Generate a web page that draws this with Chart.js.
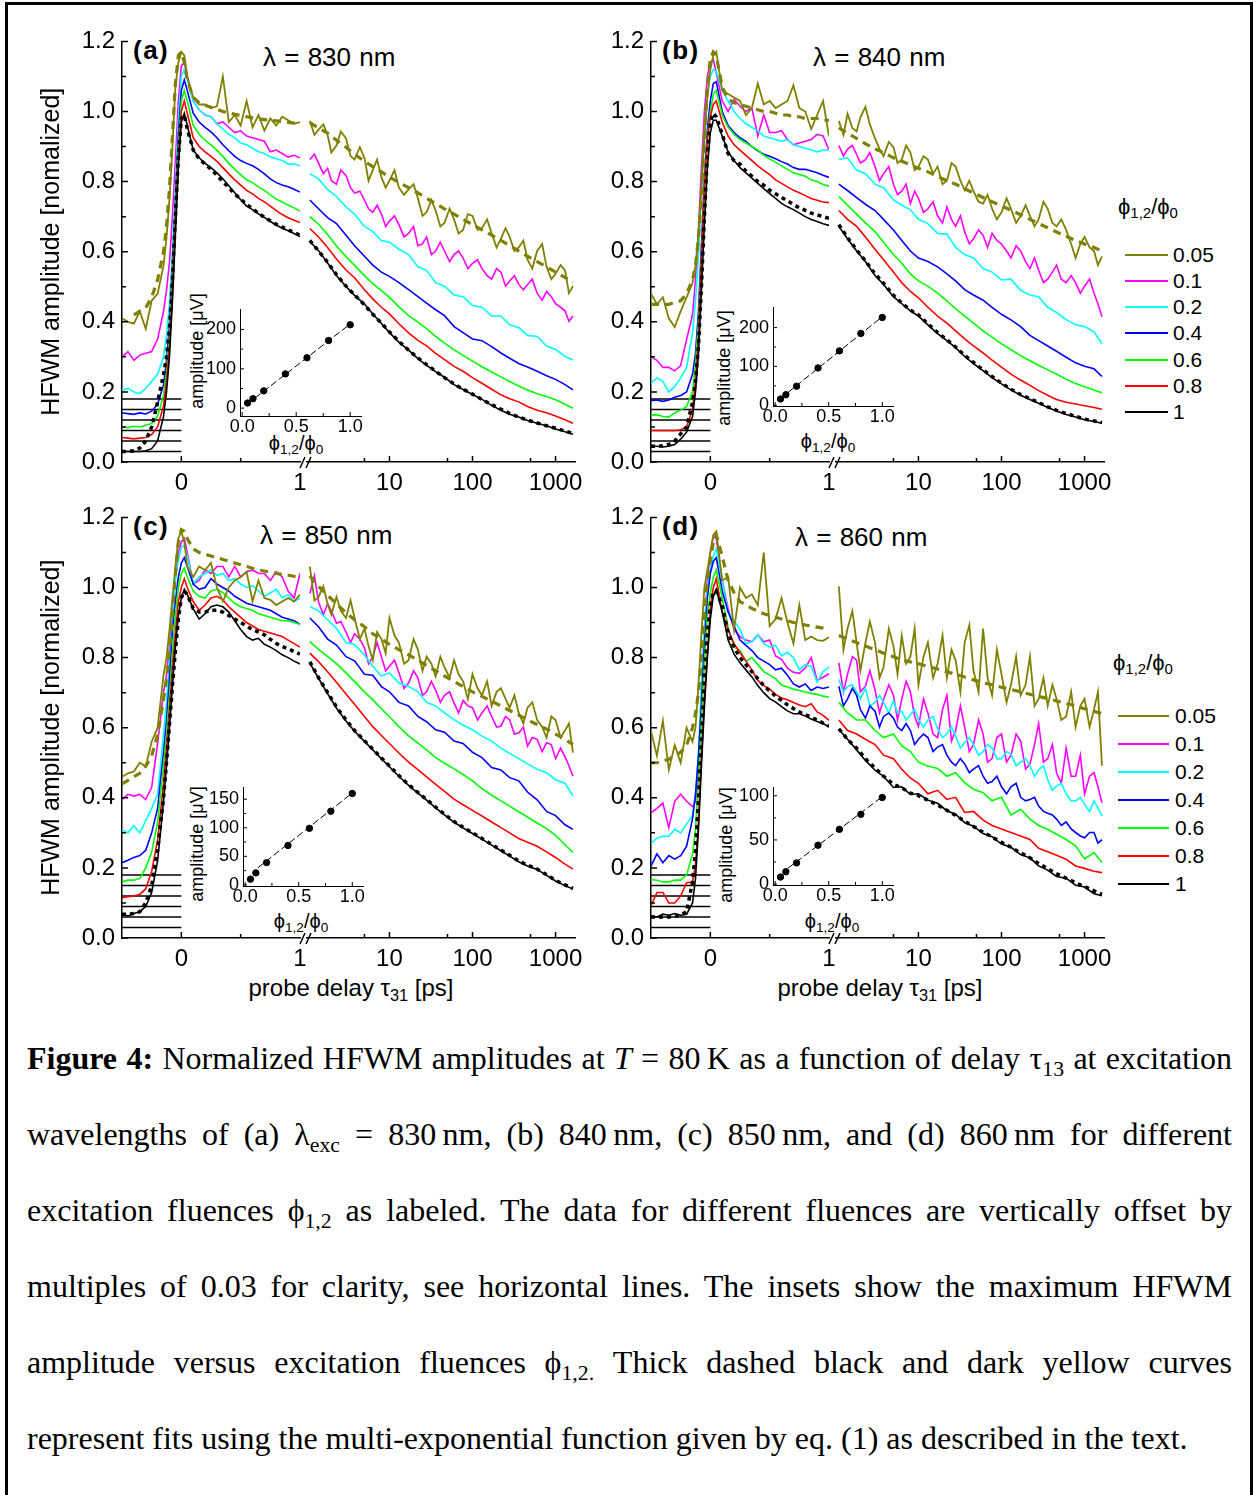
<!DOCTYPE html>
<html>
<head>
<meta charset="utf-8">
<script src="https://cdn.jsdelivr.net/npm/chart.js@4.4.1/dist/chart.umd.min.js"></script>
<style>
  body { margin: 0; width: 1253px; height: 1495px; position: relative; overflow: hidden; background: #fff;
         font-family: "Liberation Sans", Arial, sans-serif; color: #000; }
  #frame { position: absolute; left: 5px; top: 2px; width: 1242px; height: 1500px; border: 3px solid #000; border-bottom: none; }
  canvas { position: absolute; }
  .txt { position: absolute; white-space: nowrap; line-height: 1; }
  .mid { transform: translate(-50%, -50%); }
  .rot { transform: translate(-50%, -50%) rotate(-90deg); }
  sub { font-size: 0.68em; vertical-align: -0.3em; line-height: 0; }
  .sw { position: absolute; height: 0; border-top: 2px solid #000; }
  .lam { position: absolute; white-space: nowrap; line-height: 1; font-size: 26px; word-spacing: 1px; }
  .cap { position: absolute; left: 27px; width: 1205px; height: 40px; line-height: 40px;
         font-family: "Liberation Serif", "Times New Roman", serif; font-size: 32px;
         text-align: justify; text-align-last: justify; }
</style>
</head>
<body>
<div id="frame"></div>

<!-- panel labels -->
<div class="txt" style="left:133px;top:37px;font-size:26px;font-weight:bold;letter-spacing:1.5px">(a)</div>
<div class="txt" style="left:662px;top:37px;font-size:26px;font-weight:bold;letter-spacing:1.5px">(b)</div>
<div class="txt" style="left:133px;top:513px;font-size:26px;font-weight:bold;letter-spacing:1.5px">(c)</div>
<div class="txt" style="left:662px;top:513px;font-size:26px;font-weight:bold;letter-spacing:1.5px">(d)</div>

<div class="lam" style="left:263px;top:44px">λ = 830 nm</div>
<div class="lam" style="left:813px;top:44px">λ = 840 nm</div>
<div class="lam" style="left:260px;top:522px">λ = 850 nm</div>
<div class="lam" style="left:795px;top:524px">λ = 860 nm</div>

<!-- x axis titles -->
<div class="txt mid" style="left:351px;top:988px;font-size:24px">probe delay τ<sub>31</sub> [ps]</div>
<div class="txt mid" style="left:880px;top:988px;font-size:24px">probe delay τ<sub>31</sub> [ps]</div>

<!-- inset titles -->
<div class="txt mid" style="left:296px;top:443px;font-size:20px">ϕ<sub>1,2</sub>/ϕ<sub>0</sub></div>
<div class="txt mid" style="left:828px;top:441px;font-size:20px">ϕ<sub>1,2</sub>/ϕ<sub>0</sub></div>
<div class="txt mid" style="left:301px;top:921px;font-size:20px">ϕ<sub>1,2</sub>/ϕ<sub>0</sub></div>
<div class="txt mid" style="left:832px;top:921px;font-size:20px">ϕ<sub>1,2</sub>/ϕ<sub>0</sub></div>
<div class="txt rot" style="left:197px;top:351px;font-size:18px">amplitude [μV]</div>
<div class="txt rot" style="left:724px;top:368px;font-size:18px">amplitude [μV]</div>
<div class="txt rot" style="left:197px;top:844px;font-size:18px">amplitude [μV]</div>
<div class="txt rot" style="left:726px;top:845px;font-size:18px">amplitude [μV]</div>

<!-- legends -->
<div class="txt" style="left:1118px;top:196px;font-size:22px">ϕ<sub>1,2</sub>/ϕ<sub>0</sub></div>
<div class="txt" style="left:1113px;top:652px;font-size:22px">ϕ<sub>1,2</sub>/ϕ<sub>0</sub></div>
<div id="legends"></div>

<!-- caption -->
<div class="cap" style="top:1038px"><b>Figure 4:</b> Normalized HFWM amplitudes at <i>T</i> = 80&thinsp;K as a function of delay τ<sub>13</sub> at excitation</div>
<div class="cap" style="top:1114px">wavelengths of (a) λ<sub>exc</sub> = 830&thinsp;nm, (b) 840&thinsp;nm, (c) 850&thinsp;nm, and (d) 860&thinsp;nm for different</div>
<div class="cap" style="top:1190px">excitation fluences ϕ<sub>1,2</sub> as labeled. The data for different fluences are vertically offset by</div>
<div class="cap" style="top:1266px">multiples of 0.03 for clarity, see horizontal lines. The insets show the maximum HFWM</div>
<div class="cap" style="top:1342px">amplitude versus excitation fluences ϕ<sub>1,2.</sub> Thick dashed black and dark yellow curves</div>
<div class="cap" style="top:1418px;text-align-last:left">represent fits using the multi-exponential function given by eq. (1) as described in the text.</div>

<script>
// delay grids (ps): linear part, log part, and a finer log grid for the noisier traces
const xLin = [-0.5,-0.45,-0.4,-0.35,-0.3,-0.25,-0.2,-0.15,-0.125,-0.1,-0.075,-0.05,-0.025,0,0.025,0.05,0.1,0.15,0.2,0.25,0.3,0.35,0.4,0.45,0.5,0.55,0.6,0.65,0.7,0.75,0.8,0.85,0.9,0.95,1.0];
const xLog = [1.1,1.4,1.8,2.3,3,3.8,5,6.3,8,10,13,17,22,28,36,46,60,77,100,130,170,220,280,360,460,600,780,1000,1300,1620];
const xLogFine = [1.1,1.25,1.4,1.6,1.8,2.0,2.3,2.6,3,3.4,3.8,4.4,5,5.6,6.3,7.1,8,9,10,11.5,13,15,17,19.5,22,25,28,32,36,41,46,53,60,68,77,88,100,115,130,150,170,195,220,250,280,320,360,410,460,525,600,690,780,890,1000,1150,1300,1450,1620];

const linTicks = [0, 1];
const linMinor = [0.5];
const logTicks = [10, 100, 1000];
const logMinor = [5, 50, 500];
const yTicks = [0, 0.2, 0.4, 0.6, 0.8, 1.0, 1.2];
const yMinor = [0.1, 0.3, 0.5, 0.7, 0.9, 1.1];
const offsets = [0.03, 0.06, 0.09, 0.12, 0.15, 0.18];
const baseX = [-0.5, 0];

const fluences = ['0.05', '0.1', '0.2', '0.4', '0.6', '0.8', '1'];
const colors = ['#808000', '#ff00ff', '#00ffff', '#0000ff', '#00ff00', '#ff0000', '#000000'];

// (a) 830 nm
const aLin005 = [.41,.40,.395,.43,.38,.46,.48,.56,.64,.75,.9,1.07,1.14,1.17,1.16,1.1,1.04,1.02,1.02,1.01,1.015,1.1,.97,.99,.96,1.03,.955,.99,.945,.98,.96,.985,.975,.965,.97];
const aLin01 = [.3,.315,.29,.305,.31,.315,.35,.43,.49,.57,.7,.86,1.03,1.13,1.14,1.1,1.03,1.005,.99,.985,.965,.97,.955,.94,.945,.93,.925,.92,.915,.885,.89,.88,.87,.875,.868];
const aLin02 = [.205,.21,.2,.195,.21,.23,.25,.3,.36,.45,.6,.78,.97,1.1,1.12,1.09,1.03,1.005,.99,.985,.965,.95,.935,.925,.91,.905,.895,.885,.88,.87,.865,.86,.85,.85,.845];
const aLin04 = [.14,.138,.136,.14,.137,.145,.165,.22,.29,.39,.55,.74,.93,1.06,1.09,1.06,.995,.97,.955,.942,.925,.905,.888,.872,.86,.852,.845,.835,.822,.808,.797,.79,.785,.778,.77];
const aLin06 = [.1,.098,.102,.1,.105,.11,.13,.19,.26,.36,.52,.71,.9,1.03,1.06,1.03,.96,.935,.918,.905,.89,.872,.852,.835,.82,.805,.797,.785,.775,.762,.75,.742,.733,.725,.716];
const aLin08 = [.07,.068,.066,.068,.07,.078,.1,.16,.23,.33,.49,.68,.87,1.0,1.03,.995,.925,.9,.885,.872,.858,.84,.822,.805,.79,.775,.765,.752,.742,.73,.717,.706,.697,.69,.683];
const aLin1 = [.03,.03,.03,.03,.032,.038,.06,.13,.2,.3,.46,.65,.84,.97,.995,.96,.89,.868,.852,.84,.825,.808,.788,.768,.748,.73,.72,.708,.698,.686,.676,.667,.66,.652,.643];
const aFit1Lin = [.03,.03,.032,.04,.06,.1,.17,.25,.3,.38,.52,.7,.87,.98,.99,.95,.89,.865,.85,.835,.818,.8,.783,.765,.75,.735,.722,.71,.698,.688,.678,.67,.662,.655,.647];
const aFit005Lin = [null,null,.42,.43,.44,.47,.52,.6,.67,.78,.93,1.08,1.16,1.17,1.14,1.09,1.04,1.025,1.018,1.012,1.006,1.0,.996,.992,.988,.985,.982,.979,.977,.975,.973,.971,.969,.967,.965];
const aLog005 = [.97,.93,.945,.96,.93,.88,.90,.94,.92,.87,.86,.895,.865,.80,.83,.86,.81,.78,.80,.83,.78,.76,.775,.79,.75,.70,.71,.745,.715,.67,.68,.72,.69,.65,.66,.705,.70,.66,.665,.69,.65,.61,.635,.665,.64,.6,.61,.63,.575,.55,.6,.62,.555,.52,.535,.56,.545,.48,.5];
const aLog01 = [.86,.875,.85,.82,.835,.80,.79,.83,.815,.78,.765,.77,.745,.72,.71,.73,.705,.67,.685,.70,.675,.64,.65,.67,.615,.62,.64,.59,.6,.625,.6,.57,.59,.60,.58,.55,.565,.575,.55,.53,.52,.55,.54,.50,.515,.53,.505,.49,.505,.52,.48,.46,.485,.47,.45,.44,.43,.40,.415];
const aLog02 = [.82,.805,.775,.755,.725,.705,.67,.655,.63,.625,.605,.59,.555,.545,.51,.5,.475,.47,.445,.44,.415,.415,.39,.382,.36,.357,.33,.32,.3,.29];
const aLog04 = [.745,.72,.695,.678,.645,.615,.585,.56,.54,.528,.51,.49,.47,.452,.433,.416,.385,.368,.35,.345,.328,.31,.295,.28,.27,.258,.245,.235,.22,.205];
const aLog06 = [.698,.676,.647,.614,.584,.559,.530,.507,.487,.468,.441,.416,.398,.379,.357,.338,.319,.303,.287,.271,.256,.242,.229,.216,.205,.194,.186,.177,.164,.153];
const aLog08 = [.664,.640,.610,.577,.546,.524,.490,.464,.440,.421,.393,.367,.346,.330,.309,.291,.272,.258,.240,.224,.207,.191,.180,.171,.158,.147,.140,.131,.120,.11];
const aLog1 = [.627,.601,.566,.530,.499,.474,.449,.421,.394,.368,.341,.318,.294,.275,.257,.241,.220,.206,.192,.178,.161,.147,.136,.128,.118,.110,.103,.094,.086,.079];
const aFit1Log = [.63,.6,.568,.533,.5,.475,.447,.42,.395,.37,.343,.318,.296,.277,.258,.24,.222,.207,.193,.178,.163,.15,.138,.128,.119,.111,.103,.096,.088,.081];
const aFit005Log = [.965,.95,.935,.915,.895,.875,.855,.84,.825,.81,.795,.78,.765,.75,.735,.72,.705,.69,.675,.66,.645,.63,.615,.60,.585,.57,.555,.54,.525,.51];

// (b) 840 nm
const bLin005 = [.48,.45,.47,.41,.385,.43,.47,.51,.56,.65,.78,.93,1.04,1.12,1.16,1.17,1.06,1.05,1.04,1.03,.99,1.01,1.08,1.02,1.03,1.01,1.02,1.03,1.075,1.01,1.0,.95,.99,1.03,.93];
const bLin01 = [.3,.29,.27,.27,.26,.275,.35,.42,.52,.66,.84,1.0,1.1,1.14,1.148,1.11,1.03,1.0,1.035,1.015,1.0,1.01,.93,.99,.94,.94,.945,.92,.905,.91,.915,.92,.935,.93,.89];
const bLin02 = [.225,.24,.23,.2,.215,.24,.27,.37,.46,.59,.77,.94,1.05,1.1,1.12,1.115,1.06,1.03,1.0,.98,.965,.955,.945,.93,.925,.92,.915,.92,.905,.9,.895,.89,.885,.89,.89];
const bLin04 = [.175,.177,.173,.177,.185,.19,.2,.25,.31,.43,.62,.81,.95,1.03,1.08,1.085,1.0,.96,.94,.925,.915,.9,.888,.878,.872,.865,.857,.85,.84,.835,.835,.83,.825,.818,.812];
const bLin06 = [.133,.135,.13,.128,.14,.148,.158,.2,.28,.4,.58,.79,.93,1.0,1.05,1.06,.99,.955,.935,.92,.91,.9,.89,.875,.865,.855,.845,.835,.825,.82,.815,.805,.8,.792,.787];
const bLin08 = [.09,.09,.09,.09,.09,.092,.1,.15,.23,.36,.57,.78,.92,.985,1.02,1.03,.97,.93,.905,.89,.875,.86,.845,.832,.82,.805,.795,.785,.775,.768,.76,.752,.747,.742,.74];
const bLin1 = [.045,.045,.043,.045,.05,.065,.085,.13,.2,.31,.49,.68,.84,.94,.975,.975,.93,.885,.86,.84,.825,.81,.795,.78,.766,.752,.738,.728,.72,.71,.7,.692,.686,.68,.675];
const bFit1Lin = [.045,.045,.046,.05,.06,.08,.1,.17,.23,.33,.5,.7,.88,.97,.995,.985,.935,.88,.86,.85,.83,.815,.8,.79,.775,.765,.755,.745,.735,.725,.718,.71,.705,.7,.695];
const bFit005Lin = [.45,.45,.45,.45,.455,.46,.48,.52,.56,.64,.77,.93,1.07,1.15,1.17,1.16,1.07,1.035,1.025,1.02,1.015,1.01,1.005,1.0,1.0,.995,.99,.99,.985,.985,.98,.98,.98,.975,.975];
const bLog005 = [.97,.93,.99,.95,.94,.98,1.01,.96,.92,.89,.87,.91,.895,.85,.86,.90,.88,.83,.84,.87,.86,.82,.84,.79,.80,.85,.84,.80,.773,.80,.77,.74,.735,.76,.72,.69,.71,.75,.72,.68,.70,.73,.70,.67,.69,.74,.72,.68,.67,.69,.66,.62,.58,.62,.64,.61,.6,.56,.585];
const bLog01 = [.9,.87,.89,.9,.875,.85,.86,.88,.84,.80,.82,.84,.79,.76,.77,.79,.735,.77,.75,.71,.72,.74,.70,.68,.725,.69,.67,.70,.655,.62,.635,.66,.645,.61,.65,.63,.62,.60,.58,.615,.60,.57,.55,.58,.545,.51,.52,.54,.56,.52,.51,.53,.51,.48,.50,.52,.48,.45,.413];
const bLog02 = [.86,.865,.83,.82,.79,.78,.745,.73,.717,.69,.678,.65,.648,.61,.59,.58,.55,.54,.518,.52,.488,.475,.47,.44,.425,.405,.39,.385,.37,.337];
const bLog04 = [.79,.772,.752,.733,.715,.69,.66,.63,.6,.58,.57,.555,.535,.515,.49,.475,.46,.44,.42,.404,.385,.36,.345,.33,.315,.298,.282,.272,.265,.243];
const bLog06 = [.755,.73,.705,.68,.655,.625,.59,.565,.535,.515,.5,.48,.458,.436,.415,.395,.373,.355,.336,.32,.302,.288,.275,.262,.25,.235,.223,.214,.205,.197];
const bLog08 = [.715,.69,.67,.64,.605,.575,.54,.51,.485,.467,.44,.415,.395,.373,.35,.33,.31,.29,.27,.25,.233,.218,.203,.19,.178,.17,.165,.16,.155,.15];
const bLog1 = [.67,.635,.60,.57,.53,.505,.47,.45,.43,.415,.39,.365,.345,.325,.30,.28,.26,.24,.222,.205,.19,.178,.167,.155,.145,.135,.128,.12,.115,.11];
const bFit1Log = [.675,.638,.603,.572,.535,.508,.474,.452,.432,.418,.393,.368,.347,.327,.303,.283,.262,.243,.224,.207,.192,.18,.169,.157,.147,.138,.13,.122,.117,.112];
const bFit005Log = [.95,.935,.92,.905,.89,.88,.865,.855,.845,.835,.825,.812,.80,.79,.777,.765,.752,.74,.728,.716,.703,.69,.678,.666,.654,.642,.63,.62,.61,.6];

// (c) 850 nm
const cLin005 = [.46,.47,.475,.5,.49,.56,.6,.75,.8,.88,.97,1.06,1.14,1.16,1.13,1.06,1.03,1.06,1.05,1.07,1.0,.96,1.0,1.02,1.03,1.045,.96,1.02,.97,.965,.95,.96,.97,.96,.98];
const cLin01 = [.395,.41,.405,.41,.395,.43,.555,.7,.75,.83,.93,1.03,1.1,1.13,1.14,1.1,1.01,1.02,1.05,1.04,1.06,1.06,1.03,1.06,1.03,1.045,1.05,1.04,1.04,1.02,1.045,1.03,.99,.97,1.04];
const cLin02 = [.31,.30,.32,.3,.335,.37,.41,.58,.67,.79,.91,1.02,1.08,1.115,1.12,1.09,1.01,1.03,1.04,1.05,1.035,1.04,1.02,1.025,1.01,1.0,1.005,.99,.975,.985,.995,.97,.98,.96,.97];
const cLin04 = [.215,.222,.23,.235,.25,.3,.37,.53,.62,.74,.88,.96,1.03,1.07,1.085,1.06,1.01,.995,1.0,1.025,1.01,1.0,.99,.975,.965,.955,.95,.945,.94,.935,.925,.915,.91,.905,.895];
const cLin06 = [.16,.165,.165,.17,.2,.245,.33,.49,.58,.69,.81,.92,1.0,1.04,1.055,1.03,.99,.975,.97,.99,.995,.985,.97,.955,.945,.94,.935,.925,.92,.915,.91,.905,.905,.9,.895];
const cLin08 = [.115,.118,.12,.125,.14,.19,.28,.44,.54,.65,.77,.87,.96,1.0,1.025,1.0,.96,.935,.95,.97,.975,.965,.945,.93,.915,.9,.89,.88,.875,.87,.865,.86,.85,.84,.83];
const cLin1 = [.068,.063,.07,.075,.09,.13,.22,.39,.49,.6,.72,.83,.92,.97,.995,.98,.94,.91,.925,.945,.95,.945,.93,.905,.88,.86,.85,.855,.838,.83,.82,.808,.8,.79,.782];
const cFit1Lin = [.068,.068,.07,.075,.1,.15,.25,.4,.5,.61,.72,.82,.91,.97,.99,.98,.94,.93,.93,.935,.935,.93,.92,.91,.9,.89,.88,.873,.865,.852,.84,.832,.825,.817,.81];
const cFit005Lin = [.44,.45,.46,.47,.49,.52,.58,.68,.74,.82,.92,1.04,1.13,1.165,1.16,1.14,1.11,1.1,1.095,1.09,1.085,1.08,1.075,1.07,1.065,1.06,1.055,1.05,1.047,1.043,1.04,1.037,1.035,1.032,1.03];
const cLog005 = [1.056,.96,.97,1.0,.95,.92,.97,.93,.91,.96,.91,.85,.88,.83,.79,.87,.85,.81,.91,.86,.84,.78,.79,.85,.82,.76,.8,.78,.744,.80,.77,.74,.79,.75,.73,.68,.75,.71,.69,.73,.66,.70,.71,.68,.655,.69,.64,.61,.655,.67,.62,.60,.57,.63,.62,.57,.59,.61,.527];
const cLog01 = [.98,1.03,.955,.92,.95,.93,.895,.90,.87,.84,.865,.85,.825,.78,.80,.84,.80,.76,.773,.79,.754,.71,.725,.76,.74,.69,.70,.73,.705,.67,.69,.70,.668,.64,.675,.66,.655,.62,.64,.66,.63,.60,.603,.63,.62,.58,.583,.60,.546,.57,.565,.53,.555,.55,.51,.54,.515,.49,.46];
const cLog02 = [.943,.93,.905,.88,.84,.835,.805,.773,.745,.754,.725,.716,.70,.67,.66,.64,.621,.605,.592,.574,.56,.54,.525,.51,.495,.48,.47,.45,.44,.404];
const cLog04 = [.91,.885,.85,.833,.8,.788,.75,.747,.715,.7,.67,.66,.63,.615,.592,.585,.56,.553,.528,.513,.485,.478,.456,.447,.415,.393,.36,.348,.322,.309];
const cLog06 = [.843,.821,.8,.78,.754,.729,.7,.677,.652,.629,.601,.575,.554,.535,.513,.497,.481,.465,.447,.425,.406,.39,.375,.359,.344,.327,.311,.292,.265,.243];
const cLog08 = [.81,.786,.757,.727,.694,.665,.63,.601,.576,.553,.526,.5,.479,.458,.437,.417,.395,.379,.363,.347,.33,.314,.299,.283,.272,.261,.245,.229,.21,.196];
const cLog1 = [.782,.738,.695,.654,.617,.588,.559,.535,.51,.487,.46,.434,.412,.392,.37,.35,.329,.313,.297,.281,.264,.248,.233,.217,.205,.195,.178,.162,.149,.139];
const cFit1Log = [.785,.74,.698,.657,.62,.59,.561,.537,.512,.489,.462,.436,.414,.394,.372,.352,.331,.315,.299,.283,.266,.25,.235,.219,.207,.196,.18,.164,.151,.141];
const cFit005Log = [1.03,1.0,.975,.95,.925,.905,.885,.865,.85,.835,.82,.805,.79,.775,.76,.745,.73,.715,.70,.687,.673,.66,.647,.634,.62,.607,.594,.58,.565,.55];

// (d) 860 nm
const dLin005 = [.59,.52,.62,.48,.55,.5,.6,.56,.6,.72,.87,1.0,1.05,1.1,1.15,1.16,1.02,1.03,.88,1.0,.97,.98,.95,1.1,.89,.91,.97,.9,.84,.95,.85,.86,.85,.848,.858];
const dLin01 = [.357,.37,.385,.315,.39,.41,.39,.375,.39,.48,.68,.88,1.02,1.1,1.145,1.14,1.02,.94,.88,.86,.85,.845,.865,.845,.85,.805,.795,.77,.758,.755,.77,.8,.735,.744,.754];
const dLin02 = [.27,.285,.29,.29,.31,.3,.325,.35,.41,.527,.72,.89,1.0,1.056,1.09,1.11,1.02,.93,.905,.88,.84,.845,.865,.84,.83,.835,.805,.815,.8,.765,.78,.775,.73,.76,.773];
const dLin04 = [.205,.24,.215,.235,.225,.235,.262,.34,.41,.52,.67,.84,.97,1.04,1.075,1.085,.99,.93,.89,.85,.835,.82,.8,.79,.78,.765,.77,.75,.725,.716,.725,.706,.716,.712,.716];
const dLin06 = [.167,.165,.16,.16,.165,.165,.18,.24,.31,.45,.62,.79,.92,.985,1.03,1.05,.97,.886,.83,.82,.79,.8,.78,.76,.75,.74,.722,.716,.71,.706,.702,.698,.695,.69,.687];
const dLin08 = [.092,.13,.13,.1,.1,.12,.158,.16,.21,.33,.52,.68,.81,.94,1.0,1.025,.93,.88,.84,.815,.79,.765,.735,.72,.71,.695,.685,.68,.672,.665,.66,.668,.645,.635,.621];
const dLin1 = [.063,.06,.068,.065,.07,.065,.068,.1,.17,.31,.49,.66,.8,.91,.975,.995,.93,.85,.81,.785,.765,.745,.72,.7,.683,.673,.66,.648,.64,.64,.633,.625,.618,.612,.602];
const dFit1Lin = [.06,.06,.06,.06,.062,.065,.075,.16,.25,.4,.57,.74,.87,.95,.985,.99,.95,.87,.83,.8,.78,.76,.74,.72,.705,.69,.678,.665,.655,.645,.637,.63,.622,.613,.605];
const dFit005Lin = [.5,.5,.505,.51,.52,.53,.55,.6,.64,.7,.8,.92,1.02,1.08,1.13,1.15,1.09,1.02,.985,.96,.95,.94,.933,.925,.92,.915,.91,.905,.9,.897,.893,.89,.887,.884,.88];
const dLog005 = [1.0,.82,.88,.93,.84,.76,.84,.90,.84,.74,.77,.88,.83,.75,.86,.78,.8,.88,.72,.8,.84,.74,.78,.86,.74,.82,.79,.70,.84,.89,.76,.70,.88,.74,.69,.82,.75,.67,.72,.80,.69,.72,.80,.66,.68,.74,.66,.72,.68,.62,.63,.70,.60,.66,.68,.60,.65,.70,.49];
const dLog01 = [.782,.70,.75,.80,.79,.70,.716,.76,.706,.64,.678,.72,.69,.62,.68,.73,.7,.63,.602,.68,.64,.58,.57,.65,.69,.56,.59,.66,.6,.53,.55,.62,.58,.50,.51,.57,.58,.50,.52,.58,.56,.48,.495,.55,.61,.50,.51,.55,.47,.44,.54,.46,.46,.52,.41,.46,.47,.43,.385];
const dLog02 = [.735,.70,.715,.72,.70,.68,.71,.66,.67,.69,.67,.64,.675,.64,.645,.62,.635,.65,.621,.60,.62,.63,.595,.57,.58,.60,.575,.54,.555,.57,.55,.52,.53,.55,.54,.51,.51,.53,.522,.49,.50,.51,.49,.46,.478,.49,.45,.42,.432,.44,.41,.39,.39,.40,.38,.36,.39,.37,.347];
const dLog04 = [.716,.66,.68,.71,.69,.65,.625,.66,.645,.60,.63,.64,.625,.60,.59,.61,.59,.55,.565,.58,.57,.53,.543,.55,.52,.50,.49,.51,.495,.47,.48,.49,.46,.44,.445,.46,.43,.41,.43,.44,.40,.39,.394,.40,.375,.36,.355,.35,.338,.32,.33,.31,.30,.29,.285,.30,.30,.27,.28];
const dLog06 = [.67,.64,.62,.62,.59,.57,.58,.546,.53,.5,.489,.482,.46,.47,.442,.423,.413,.39,.40,.35,.366,.338,.32,.309,.295,.28,.262,.225,.243,.215];
const dLog08 = [.62,.59,.58,.565,.55,.52,.51,.48,.455,.44,.41,.42,.394,.40,.357,.36,.335,.32,.31,.30,.29,.28,.255,.245,.235,.224,.205,.198,.19,.186];
const dLog1 = [.593,.565,.535,.505,.477,.46,.428,.43,.408,.41,.392,.383,.362,.352,.328,.318,.297,.288,.267,.258,.237,.228,.205,.193,.175,.17,.15,.145,.126,.12];
const dFit1Log = [.595,.565,.54,.51,.483,.46,.437,.427,.412,.405,.392,.378,.363,.349,.332,.317,.301,.287,.272,.258,.242,.228,.212,.197,.183,.17,.157,.146,.134,.124];
const dFit005Log = [.86,.85,.84,.83,.82,.81,.80,.79,.785,.78,.772,.765,.757,.75,.742,.734,.726,.72,.713,.707,.70,.693,.687,.681,.674,.667,.66,.652,.645,.638];

// insets: maximum amplitude (µV) vs fluence
const phi = [0.05, 0.1, 0.2, 0.4, 0.6, 0.8, 1.0];
const ampA = [13, 24, 44, 87, 128, 172, 212];
const ampB = [16, 27, 49, 96, 140, 185, 226];
const ampC = [10, 21, 39, 69, 99, 129, 160];
const ampD = [8, 14, 24, 44, 62, 79, 98];
const fitX = [0.12, 1.0];
const fitA = [26, 214];
const fitB = [33, 228];
const fitC = [30, 161];
const fitD = [18, 99];
const insetXTicks = [0, 0.5, 1.0];
const insetXMinor = [0.25, 0.75];

Chart.defaults.font.family = '"Liberation Sans", Arial, sans-serif';
Chart.defaults.color = '#000';

// inward tick marks + axis break
const inTicks = {
  id: 'inTicks',
  afterDraw(chart, args, o) {
    const ctx = chart.ctx, a = chart.chartArea;
    ctx.save();
    ctx.strokeStyle = '#000';
    ctx.lineWidth = o.w || 1.5;
    ctx.beginPath();
    (o.x || []).forEach(([v, len]) => {
      const px = chart.scales.x.getPixelForValue(v);
      ctx.moveTo(px, a.bottom); ctx.lineTo(px, a.bottom - len);
    });
    (o.y || []).forEach(([v, len]) => {
      const py = chart.scales.y.getPixelForValue(v);
      ctx.moveTo(a.left, py); ctx.lineTo(a.left + len, py);
    });
    if (o.brk) {
      const px = chart.scales.x.getPixelForValue(chart.scales.x.max);
      ctx.moveTo(px, a.bottom + 6); ctx.lineTo(px + 5, a.bottom - 5);
      ctx.moveTo(px + 6, a.bottom + 6); ctx.lineTo(px + 11, a.bottom - 5);
    }
    ctx.stroke();
    ctx.restore();
  }
};

function marks(vals, len) { return vals.map(v => [v, len]); }
function fixedTicks(vals) { return s => { s.ticks = vals.map(v => ({ value: v })); }; }

function addCanvas(left, top, w, h) {
  const c = document.createElement('canvas');
  c.width = w; c.height = h;
  c.style.left = left + 'px'; c.style.top = top + 'px';
  document.body.appendChild(c);
  return c;
}

// pick the grid that matches the length of a series
function gridFor(ys, grids) { return grids.find(g => g.length === ys.length); }

function curve(grids, ys, color, width, dash) {
  const xs = gridFor(ys, grids);
  return {
    data: xs.map((x, i) => ({ x: x, y: ys[i] })),
    borderColor: color, borderWidth: width, borderDash: dash || [],
    pointRadius: 0, fill: false, tension: 0
  };
}

function curveSets(grids, lines, fits, withBase) {
  const sets = [
    curve(grids, fits[0], '#000000', 3.5, [4, 4]),
    curve(grids, lines[6], colors[6], 1.6),
    curve(grids, lines[0], colors[0], 1.8),
    curve(grids, fits[1], '#808000', 3.2, [8, 6])
  ];
  [5, 4, 3, 2, 1].forEach(k => sets.push(curve(grids, lines[k], colors[k], 1.6)));
  if (withBase) offsets.forEach(o => sets.push(curve([baseX], [o, o], '#000000', 1.5)));
  return sets;
}

function opts(padding, scales, tickOpts) {
  return {
    responsive: false, animation: false, devicePixelRatio: 1, events: [],
    layout: { padding: padding, autoPadding: false },
    plugins: { legend: { display: false }, tooltip: { enabled: false }, inTicks: tickOpts },
    scales: scales
  };
}

const noGrid = { display: false, drawTicks: false };
const border = { display: true, color: '#000', width: 1.5 };

function panel(p) {
  const left = 30 + p.dx, top = 20 + p.dy;

  new Chart(addCanvas(left, top, 284, 480), {
    type: 'line',
    data: { datasets: curveSets([xLin], p.lin, p.fitLin, true) },
    options: opts({ left: 0, right: 14, top: 20, bottom: 0 }, {
      x: { type: 'linear', min: -0.5, max: 1, grid: noGrid, border: border,
           ticks: { padding: 7, font: { size: 24 }, maxRotation: 0, callback: v => String(v) },
           afterBuildTicks: fixedTicks(linTicks), afterFit: s => { s.height = 38; } },
      y: { min: 0, max: 1.2, grid: noGrid, border: border,
           ticks: { padding: 7, font: { size: 24 }, callback: v => v.toFixed(1) },
           title: { display: !!p.yTitle, text: p.yTitle || '', font: { size: 25 }, padding: { top: 7, bottom: 0 } },
           afterBuildTicks: fixedTicks(yTicks), afterFit: s => { s.width = 92; } }
    }, { x: marks([0], 6).concat(marks(linMinor, 4)), y: marks(yTicks, 6).concat(marks(yMinor, 4)), brk: true }),
    plugins: [inTicks]
  });

  new Chart(addCanvas(left + 270, top, 290, 480), {
    type: 'line',
    data: { datasets: curveSets([xLog, xLogFine], p.log, p.fitLog, false) },
    options: opts({ left: 6.4, right: 10, top: 20, bottom: 0 }, {
      x: { type: 'logarithmic', min: 1, max: 1760, grid: noGrid, border: border,
           ticks: { padding: 7, font: { size: 24 }, maxRotation: 0, callback: v => String(v) },
           afterBuildTicks: fixedTicks(logTicks), afterFit: s => { s.height = 38; } },
      y: { display: false, min: 0, max: 1.2 }
    }, { x: marks(logTicks, 6).concat(marks(logMinor, 4)) }),
    plugins: [inTicks]
  });
}

function inset(area, amp, fit, yMin, yMax, yT, yM) {
  const c = addCanvas(area[0] - 55, area[1] - 10, area[2] - area[0] + 65, area[3] - area[1] + 55);
  new Chart(c, {
    type: 'line',
    data: { datasets: [
      { data: fitX.map((x, i) => ({ x: x, y: fit[i] })), borderColor: '#000', borderWidth: 1, borderDash: [7, 3], pointRadius: 0 },
      { data: phi.map((x, i) => ({ x: x, y: amp[i] })), showLine: false, pointRadius: 3.2,
        pointBackgroundColor: '#000', pointBorderColor: '#000', borderColor: '#000' }
    ] },
    options: opts({ left: 0, right: 10, top: 10, bottom: 0 }, {
      x: { type: 'linear', min: -0.02, max: 1.1, grid: noGrid, border: { display: true, color: '#000', width: 1 },
           ticks: { padding: 0, font: { size: 18 }, maxRotation: 0, callback: v => v.toFixed(1) },
           afterBuildTicks: fixedTicks(insetXTicks), afterFit: s => { s.height = 45; } },
      y: { min: yMin, max: yMax, grid: noGrid, border: { display: true, color: '#000', width: 1 },
           ticks: { padding: 4, font: { size: 18 }, callback: v => String(v) },
           afterBuildTicks: fixedTicks(yT), afterFit: s => { s.width = 55; } }
    }, { x: marks(insetXTicks, 4).concat(marks(insetXMinor, 3)), y: marks(yT, 4).concat(marks(yM, 3)), w: 1 }),
    plugins: [inTicks]
  });
}

panel({ dx: 0, dy: 0, yTitle: 'HFWM amplitude [nomalized]',
  lin: [aLin005, aLin01, aLin02, aLin04, aLin06, aLin08, aLin1], fitLin: [aFit1Lin, aFit005Lin],
  log: [aLog005, aLog01, aLog02, aLog04, aLog06, aLog08, aLog1], fitLog: [aFit1Log, aFit005Log] });
panel({ dx: 529, dy: 0, yTitle: '',
  lin: [bLin005, bLin01, bLin02, bLin04, bLin06, bLin08, bLin1], fitLin: [bFit1Lin, bFit005Lin],
  log: [bLog005, bLog01, bLog02, bLog04, bLog06, bLog08, bLog1], fitLog: [bFit1Log, bFit005Log] });
panel({ dx: 0, dy: 476, yTitle: 'HFWM amplitude [normalized]',
  lin: [cLin005, cLin01, cLin02, cLin04, cLin06, cLin08, cLin1], fitLin: [cFit1Lin, cFit005Lin],
  log: [cLog005, cLog01, cLog02, cLog04, cLog06, cLog08, cLog1], fitLog: [cFit1Log, cFit005Log] });
panel({ dx: 529, dy: 476, yTitle: '',
  lin: [dLin005, dLin01, dLin02, dLin04, dLin06, dLin08, dLin1], fitLin: [dFit1Lin, dFit005Lin],
  log: [dLog005, dLog01, dLog02, dLog04, dLog06, dLog08, dLog1], fitLog: [dFit1Log, dFit005Log] });

inset([240, 305, 361, 416], ampA, fitA, -20, 250, [0, 100, 200], [50, 150]);
inset([773, 303, 893, 406.7], ampB, fitB, -2, 251, [0, 100, 200], [50, 150]);
inset([243.3, 783, 364, 886], ampC, fitC, -2, 170, [0, 50, 100, 150], [25, 75, 125]);
inset([772.7, 783.3, 893.3, 886], ampD, fitD, -1, 109, [0, 50, 100], [25, 75]);

// legends
const legendBox = document.getElementById('legends');
[[1125, 43, 1173, [255, 281, 307, 333, 360, 386, 412]],
 [1118, 51, 1175, [716, 744, 772, 800, 828, 856, 884]]].forEach(([lx, lw, tx, ys]) => {
  fluences.forEach((f, i) => {
    const sw = document.createElement('div');
    sw.className = 'sw';
    sw.style.cssText = 'left:' + lx + 'px;top:' + (ys[i] - 1) + 'px;width:' + lw + 'px;border-top-color:' + colors[i];
    legendBox.appendChild(sw);
    const t = document.createElement('div');
    t.className = 'txt';
    t.style.cssText = 'left:' + tx + 'px;top:' + (ys[i] - 11) + 'px;font-size:21px';
    t.textContent = f;
    legendBox.appendChild(t);
  });
});
</script>
</body>
</html>
